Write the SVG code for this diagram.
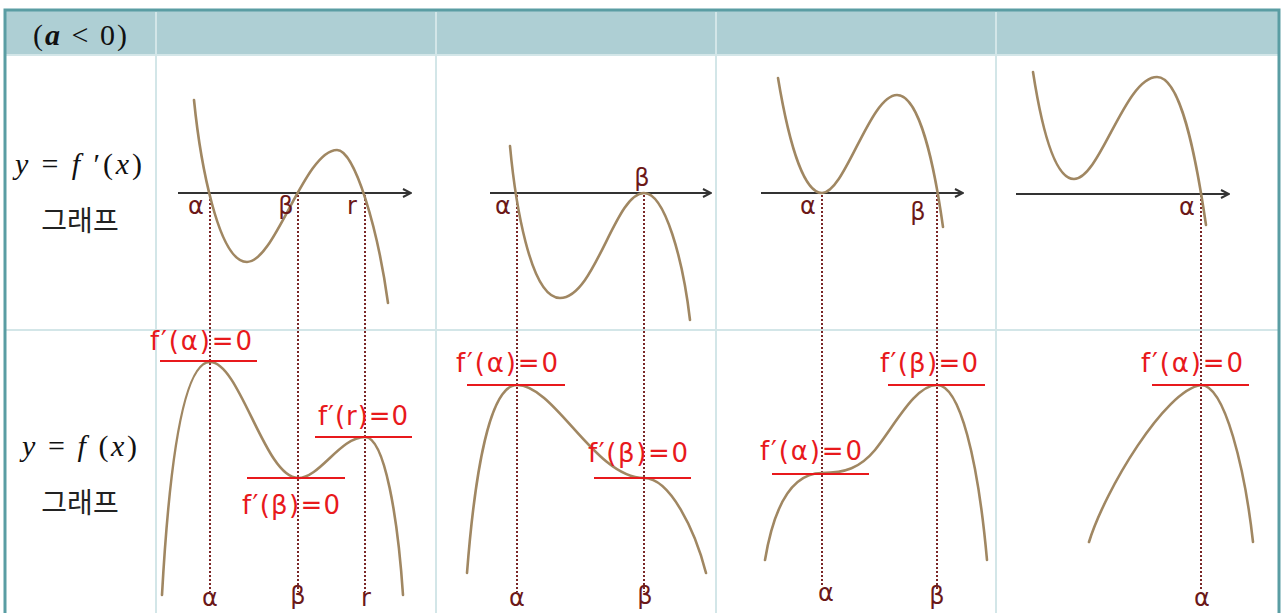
<svg xmlns="http://www.w3.org/2000/svg" width="1281" height="613" viewBox="0 0 1281 613">
<defs>
<marker id="arr" viewBox="0 0 10 10" refX="9" refY="5" markerWidth="10" markerHeight="10" markerUnits="userSpaceOnUse" orient="auto">
<path d="M1,1 L9,5 L1,9" fill="none" stroke="#333" stroke-width="2"/>
</marker>
<style>
.curve{fill:none;stroke:#a08762;stroke-width:2.6;stroke-linecap:round}
.axis{fill:none;stroke:#333;stroke-width:2;marker-end:url(#arr)}
.dot{fill:none;stroke:#7a2626;stroke-width:2;stroke-dasharray:2 2}
.tan{fill:none;stroke:#e8191c;stroke-width:2}
.lab{font-family:"DejaVu Sans",sans-serif;font-size:26px;fill:#e8191c}
.gr{font-family:"DejaVu Sans",sans-serif;font-size:24px;fill:#6b1818;text-anchor:middle}
.m{font-family:"Liberation Serif",serif;font-size:30px;fill:#111}
.kr{font-family:"Noto Sans CJK KR",sans-serif;font-size:28px;fill:#222;text-anchor:middle}
.grid{stroke:#d3e6e8;stroke-width:2;fill:none}
</style>
</defs>
<g id="table">
<rect x="5" y="10" width="1274" height="44" fill="#aecfd4"/>
<path class="grid" d="M156,12 V613 M436,12 V613 M716,12 V613 M996,12 V613 M6,330 H1278 M6,55 H1278"/>
<path d="M5,613 V10 H1279 V613" fill="none" stroke="#5a9da3" stroke-width="3"/>
</g>
<g id="header">
<text class="m" x="33" y="45" textLength="94" lengthAdjust="spacing">(<tspan font-style="italic" font-weight="bold">a</tspan> &lt; 0)</text>
</g>
<g id="row-labels">
<text class="m" x="15" y="174" textLength="127" lengthAdjust="spacing"><tspan font-style="italic">y</tspan> = <tspan font-style="italic">f</tspan> ′(<tspan font-style="italic">x</tspan>)</text>
<text class="kr" x="80" y="231">그래프</text>
<text class="m" x="22" y="456" textLength="115" lengthAdjust="spacing"><tspan font-style="italic">y</tspan> = <tspan font-style="italic">f</tspan> (<tspan font-style="italic">x</tspan>)</text>
<text class="kr" x="80" y="513">그래프</text>
</g>
<g id="connectors">
<path class="dot" d="M210,195 V592 M298,195 V592 M365,195 V592"/>
<path class="dot" d="M517,195 V592 M644,195 V592"/>
<path class="dot" d="M822,195 V586 M937,195 V590"/>
<path class="dot" d="M1201,195 V590"/>
</g>
<g id="cell1">
<path class="axis" d="M178,193 H411"/>
<path class="curve" d="M194,100 C200,160 218,262 247,262 C275,262 305,150 337,150 C355,150 378,230 388,303"/>
<text class="gr" x="196" y="214">α</text>
<text class="gr" x="286" y="214">β</text>
<text class="gr" x="352" y="214">r</text>
<path class="curve" d="M162,595 C170,450 185,362 210,362 C240,362 265,478 298,478 C320,478 340,437 365,437 C385,437 398,520 403,595"/>
<path class="tan" d="M160,361 H257 M247,478 H345 M315,437 H412"/>
<text class="lab" x="150" y="350" textLength="102" lengthAdjust="spacing">f′(α)=0</text>
<text class="lab" x="318" y="425" textLength="90" lengthAdjust="spacing">f′(r)=0</text>
<text class="lab" x="242" y="514" textLength="98" lengthAdjust="spacing">f′(β)=0</text>
<text class="gr" x="210" y="606">α</text>
<text class="gr" x="298" y="604">β</text>
<text class="gr" x="366" y="606">r</text>
</g>
<g id="cell2">
<path class="axis" d="M490,193 H711"/>
<path class="curve" d="M510,146 C515,200 530,298 560,298 C595,298 615,193 644,193 C665,193 683,260 690,320"/>
<text class="gr" x="503" y="214">α</text>
<text class="gr" x="642" y="186">β</text>
<path class="curve" d="M467,573 C475,470 490,385 517,385 C555,385 595,478 644,478 C670,478 695,530 706,573"/>
<path class="tan" d="M467,385 H565 M594,478 H691"/>
<text class="lab" x="456" y="372" textLength="102" lengthAdjust="spacing">f′(α)=0</text>
<text class="lab" x="588" y="462" textLength="100" lengthAdjust="spacing">f′(β)=0</text>
<text class="gr" x="517" y="606">α</text>
<text class="gr" x="645" y="604">β</text>
</g>
<g id="cell3">
<path class="axis" d="M761,193 H963"/>
<path class="curve" d="M778,78 C790,150 805,193 822,193 C845,193 870,95 897,95 C920,95 935,170 943,227"/>
<text class="gr" x="808" y="214">α</text>
<text class="gr" x="918" y="220">β</text>
<path class="curve" d="M765,560 C775,500 795,473 822,473 C845,473 860,468 875,450 C895,425 915,385 937,385 C960,385 978,460 987,560"/>
<path class="tan" d="M772,474 H869 M888,385 H985"/>
<text class="lab" x="760" y="460" textLength="102" lengthAdjust="spacing">f′(α)=0</text>
<text class="lab" x="880" y="372" textLength="98" lengthAdjust="spacing">f′(β)=0</text>
<text class="gr" x="826" y="601">α</text>
<text class="gr" x="937" y="604">β</text>
</g>
<g id="cell4">
<path class="axis" d="M1016,194 H1229"/>
<path class="curve" d="M1033,72 C1042,130 1055,179 1074,179 C1100,179 1125,77 1157,77 C1180,77 1195,150 1206,225"/>
<text class="gr" x="1187" y="215">α</text>
<path class="curve" d="M1089,542 C1105,490 1165,390 1201,385 C1225,385 1245,470 1253,542"/>
<path class="tan" d="M1152,385 H1249"/>
<text class="lab" x="1141" y="372" textLength="102" lengthAdjust="spacing">f′(α)=0</text>
<text class="gr" x="1202" y="606">α</text>
</g>
</svg>
